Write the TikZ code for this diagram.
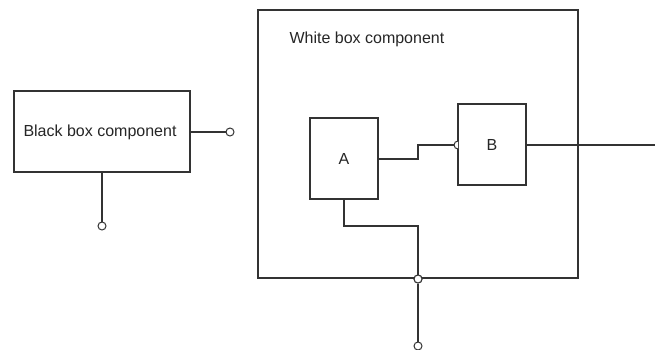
\documentclass[tikz,border=0pt]{standalone}
\usepackage{fontspec}
\setmainfont{Liberation Sans}
\begin{document}
\begin{tikzpicture}[x=1pt,y=-1pt,
  box/.style={draw=black!80, line width=1.2pt, inner sep=0pt, fill=white},
  wire/.style={draw=black!80, line width=1.2pt},
  port/.style={circle, draw=black!80, line width=1pt, fill=white, minimum size=8pt, inner sep=0pt},
  lbl/.style={font=\fontsize{16}{18}\selectfont, text=black!85}]
\useasboundingbox (0,0) rectangle (655,350);
% black box
\node[box, minimum width=176pt, minimum height=81pt] (bb) at (102,131.5) {};
\node[lbl] (bbt) at (100,132) {Black box component};
\coordinate (bbr) at (190,132);
\node[port] (p1) at (230,132) {};
\coordinate (bbd) at (102,172);
\node[port] (p2) at (102,226) {};
\draw[wire] (bbr) -- (p1);
\draw[wire] (bbd) -- (p2);
% white box
\node[box, minimum width=320pt, minimum height=268pt] (wb) at (418,144) {};
\node[lbl, anchor=base west] (wbt) at (286,44) {White box component};
% A and B
\node[box, minimum width=68pt, minimum height=81pt] (A) at (344,158.5) {};
\node[lbl] at (A.center) {A};
\node[box, minimum width=68pt, minimum height=81pt] (B) at (492,144.5) {};
\node[lbl] at (B.center) {B};
\coordinate (Ar) at (378,159);
\coordinate (Bl) at (458,145);
\coordinate (Ab) at (344,199);
\coordinate (Br) at (526,145);
\coordinate (out) at (655,145);
\draw[wire] (Ar) -- (418,159) -- (418,145) -- (Bl);
\draw[wire] (Br) -- (out);
\node[port] (p3) at (418,279) {};
\node[port] (p4) at (418,346) {};
\draw[wire] (Ab) -- (344,226) -- (418,226) -- (p3);
\draw[wire] (p3) -- (p4);
\begin{scope}
\clip (Bl) ++(-5,-5) rectangle ++(5,10);
\node[port] (p5) at (Bl) {};
\end{scope}
\node[port] at (p3) {};
\end{tikzpicture}
\end{document}
